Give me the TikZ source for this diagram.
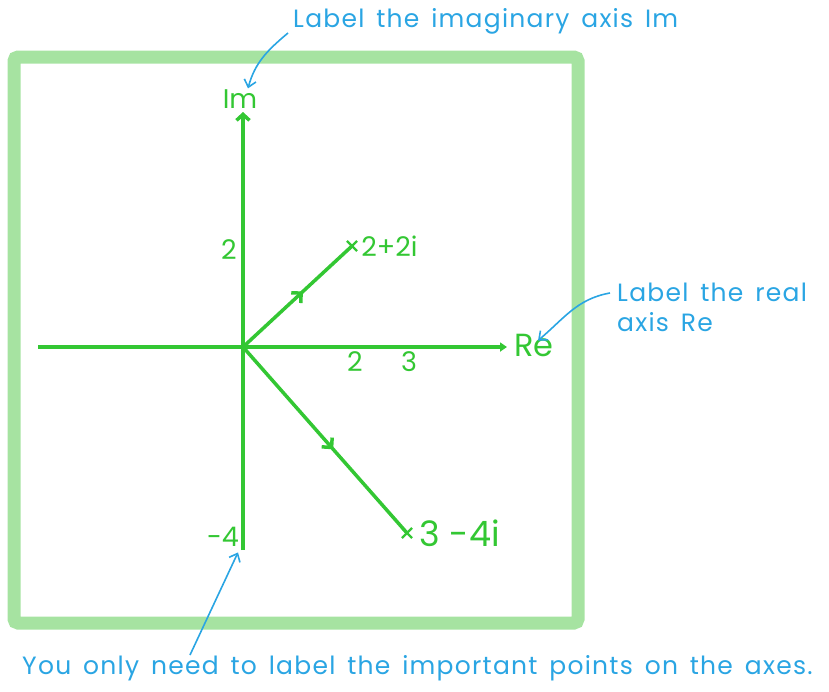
\documentclass[tikz,border=0pt]{standalone}
\usepackage{fontspec}
\setmainfont{Poppins}
\newfontfamily\notefont[LetterSpace=5,WordSpace=1.5]{Poppins}
\usetikzlibrary{arrows.meta,positioning,shapes.misc,decorations.markings}
\definecolor{FrameGreen}{HTML}{A6E3A1}
\definecolor{AxisGreen}{HTML}{33C733}
\definecolor{NoteBlue}{HTML}{2AA5E3}

\begin{document}
\begin{tikzpicture}[x=1pt, y=-1pt,
    axis/.style={draw=AxisGreen, line width=3.5pt},
    glabel/.style={text=AxisGreen, font=\fontsize{27}{29}\selectfont, inner sep=1pt},
    note/.style={text=NoteBlue, font=\notefont\fontsize{25}{30}\selectfont, inner sep=0pt, align=left},
    notearrow/.style={draw=NoteBlue, line width=1.6pt, -{Straight Barb[length=7pt,width=12pt]}},
    ptmark/.style={cross out, draw=AxisGreen, line width=2.2pt, minimum size=8pt, inner sep=0pt},
    midarrow/.style={postaction={decorate}, decoration={markings, mark=at position 0.55 with {\arrow{Straight Barb[length=7pt,width=14pt]}}}}]
    \useasboundingbox (0,0) rectangle (829,691);
    % frame
    \draw[FrameGreen, line width=13pt, rounded corners=4pt] (14,57) rectangle (578,623);
    % axes
    \coordinate (O) at (243,347);
    \coordinate (xl) at (38,347);
    \coordinate (xr) at (507,347);
    \coordinate (yt) at (243,112);
    \coordinate (yb) at (243,550);
    \draw[axis, -{Triangle[length=7pt,width=9pt]}] (xl) -- (xr);
    \draw[axis, -{Straight Barb[length=6pt,width=13pt]}] (yb) -- (yt);
    \node[glabel] (imlab) at (240,99) {Im};
    \node[glabel, font=\fontsize{32}{34}\selectfont] (relab) at (534,345) {Re};
    % tick labels
    \node[glabel] (y2) at (229,250) {2};
    \node[glabel] (x2) at (355,362) {2};
    \node[glabel] (x3) at (409,362) {3};
    \node[glabel] (ym4) at (223,537) {-4};
    % the two numbers
    \node[ptmark] (p1) at (352,246) {};
    \node[ptmark] (p2) at (407,533) {};
    \draw[axis, midarrow] (O) -- (p1.center);
    \draw[axis, midarrow] (O) -- (p2.center);
    \node[glabel, right=3pt of p1] (p1lab) {2+2i};
    \node[glabel, font=\fontsize{35}{37}\selectfont, right=6pt of p2] (p2lab) {3\hspace{10pt}-4i};
    % notes
    \node[note, anchor=west] (noteim) at (293,21) {Label the imaginary axis Im};
    \node[note, anchor=west] (notere) at (617,307) {Label the real\\axis Re};
    \node[note, anchor=west] (noteax) at (22,668) {You only need to label the important points on the axes.};
    \coordinate (s1) at (288,33);
    \coordinate (s2) at (610,293);
    \coordinate (s3) at (190,655);
    \draw[notearrow] (s1) to[out=220, in=75] ([xshift=8pt]imlab.north);
    \draw[notearrow] (s2) to[out=190, in=40] ([xshift=4pt, yshift=-8pt]relab.north);
    \draw[notearrow, shorten >=5pt] (s3) -- (ym4.south east);
\end{tikzpicture}
\end{document}
